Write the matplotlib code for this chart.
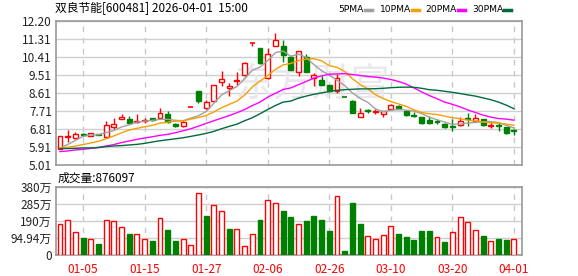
import matplotlib.pyplot as plt
from matplotlib.patches import Rectangle
from matplotlib.lines import Line2D

plt.rcParams['font.family'] = ['Noto Sans CJK SC', 'DejaVu Sans']

# 2025-12-29 .. 2026-04-01, one entry per trading day
tick_days = [3, 11, 19, 27, 35, 43, 51, 59]
tick_dates = ['01-05', '01-15', '01-27', '02-06', '02-26', '03-10', '03-20', '04-01']

opens = [5.82, 6.43, 6.36, 6.57, 6.47, 6.54, 6.42, 6.89, 7.30, 7.32,
         7.15, 7.20, 7.37, 7.35, 7.57, 7.07, 6.95, 7.89, 8.68, 7.86,
         8.21, 9.14, 8.84, 9.22, 9.51, 11.11, 10.85, 9.33, 10.95, 10.96,
         10.38, 9.67, 10.38, 9.35, 9.26, 8.99, 8.69, 8.41, 8.20, 7.43,
         7.74, 7.66, 7.55, 7.82, 7.96, 7.71, 7.53, 7.40, 7.25, 7.22,
         7.06, 6.96, 7.01, 7.35, 7.22, 7.30, 6.94, 7.00, 6.89, 6.74]
highs = [6.46, 6.74, 6.66, 6.61, 6.62, 6.56, 7.19, 7.35, 7.57, 7.48,
         7.57, 7.38, 7.38, 7.85, 7.70, 7.12, 7.25, 7.89, 8.68, 8.25,
         9.00, 9.72, 9.11, 9.64, 10.14, 11.11, 10.87, 10.83, 11.60, 11.23,
         10.49, 10.69, 10.57, 9.59, 9.43, 8.99, 9.56, 8.41, 8.28, 7.87,
         7.79, 7.79, 7.73, 8.04, 8.00, 7.71, 7.66, 7.43, 7.46, 7.33,
         7.10, 7.30, 7.43, 7.60, 7.55, 7.30, 7.14, 7.14, 6.92, 6.81]
lows = [5.80, 6.16, 6.32, 6.46, 6.46, 6.49, 6.36, 6.82, 7.30, 7.10,
        7.10, 7.12, 7.19, 7.29, 7.10, 6.90, 6.92, 7.89, 8.11, 7.81,
        8.18, 8.94, 8.48, 9.01, 9.44, 10.93, 10.06, 9.30, 10.93, 10.15,
        9.76, 9.43, 9.67, 8.94, 8.99, 8.64, 8.61, 8.41, 7.60, 7.43,
        7.60, 7.55, 7.43, 7.79, 7.79, 7.46, 7.40, 7.07, 7.06, 7.06,
        6.88, 6.73, 6.94, 6.97, 7.17, 6.94, 6.86, 6.73, 6.58, 6.52]
closes = [6.45, 6.45, 6.56, 6.49, 6.59, 6.51, 7.00, 7.05, 7.40, 7.12,
          7.20, 7.25, 7.24, 7.62, 7.15, 6.94, 7.17, 7.89, 8.20, 8.18,
          9.00, 9.29, 8.94, 9.25, 10.10, 11.11, 10.08, 10.55, 11.26, 10.50,
          9.76, 10.69, 9.67, 9.48, 8.99, 8.69, 9.35, 8.41, 7.63, 7.60,
          7.69, 7.71, 7.72, 7.99, 7.82, 7.50, 7.48, 7.11, 7.09, 7.17,
          6.91, 6.92, 7.22, 7.30, 7.37, 7.00, 7.02, 6.96, 6.61, 6.70]
# volume in 万
volume = [171.7, 197.3, 126, 95, 87.7, 62, 197, 191.8, 159, 117,
          115, 87.7, 78.5, 208, 139, 78.5, 87.7, 54.8, 349, 215.6,
          279.5, 246.6, 144.3, 148, 49.3, 115, 193.7, 307, 290.5, 248.5,
          210, 175.4, 188, 215.6, 193.7, 133.4, 330.7, 23.8, 292, 171.7,
          104, 87.7, 109.6, 164.4, 117, 100.5, 84, 133.4, 133.4, 98.7,
          73, 126, 213.8, 186.3, 137, 106, 76.7, 89.5, 84, 87.6]

ma5 = [5.86, 6.03, 6.24, 6.44, 6.51, 6.52, 6.63, 6.73, 6.91, 7.02,
       7.15, 7.20, 7.24, 7.29, 7.29, 7.24, 7.22, 7.35, 7.47, 7.68,
       8.09, 8.51, 8.72, 8.93, 9.32, 9.74, 9.90, 10.22, 10.62, 10.70,
       10.43, 10.55, 10.38, 10.02, 9.72, 9.50, 9.24, 8.98, 8.61, 8.34,
       8.14, 7.81, 7.67, 7.74, 7.79, 7.75, 7.70, 7.58, 7.40, 7.27,
       7.15, 7.04, 7.06, 7.10, 7.14, 7.16, 7.18, 7.13, 6.99, 6.86]
ma10 = [5.86, 5.89, 5.96, 6.03, 6.11, 6.19, 6.32, 6.46, 6.62, 6.76,
        6.84, 6.92, 6.99, 7.10, 7.15, 7.20, 7.21, 7.30, 7.38, 7.48,
        7.66, 7.87, 8.04, 8.20, 8.50, 8.91, 9.20, 9.47, 9.78, 10.01,
        10.08, 10.22, 10.30, 10.32, 10.21, 9.97, 9.89, 9.68, 9.32, 9.03,
        8.82, 8.52, 8.33, 8.18, 8.06, 7.94, 7.76, 7.63, 7.57, 7.53,
        7.45, 7.37, 7.32, 7.25, 7.21, 7.16, 7.11, 7.10, 7.05, 7.00]
ma20 = [5.68, 5.71, 5.76, 5.79, 5.84, 5.89, 5.96, 6.03, 6.13, 6.21,
        6.29, 6.36, 6.42, 6.49, 6.54, 6.62, 6.72, 6.82, 6.95, 7.09,
        7.22, 7.35, 7.48, 7.62, 7.78, 7.98, 8.15, 8.40, 8.59, 8.78,
        8.86, 9.02, 9.18, 9.35, 9.46, 9.54, 9.56, 9.57, 9.53, 9.48,
        9.43, 9.40, 9.35, 9.28, 9.18, 9.05, 8.86, 8.66, 8.48, 8.32,
        8.15, 8.04, 7.91, 7.76, 7.63, 7.50, 7.40, 7.33, 7.30, 7.25]
ma30 = [5.83, 5.83, 5.84, 5.86, 5.86, 5.88, 5.93, 5.96, 5.98, 6.01,
        6.04, 6.09, 6.16, 6.22, 6.27, 6.32, 6.37, 6.44, 6.51, 6.59,
        6.69, 6.82, 6.94, 7.05, 7.22, 7.37, 7.57, 7.78, 7.98, 8.15,
        8.20, 8.35, 8.45, 8.54, 8.61, 8.68, 8.74, 8.77, 8.79, 8.81,
        8.81, 8.82, 8.84, 8.87, 8.89, 8.90, 8.89, 8.84, 8.77, 8.74,
        8.69, 8.64, 8.58, 8.51, 8.45, 8.36, 8.27, 8.15, 8.00, 7.82]

price_ticks = [5.01, 5.91, 6.81, 7.71, 8.61, 9.51, 10.41, 11.31, 12.20]
vol_ticks = [0, 94.94, 190, 285, 380]
vol_labels = ['0', '94.94万', '190万', '285万', '380万']

RED = '#ff0000'
GREEN = '#008000'
GRID = '#d0d0d0'
SPINE = '#999999'

W, H = 578, 276
fig = plt.figure(figsize=(W / 100, H / 100), dpi=100)
ax = fig.add_axes([56 / W, 1 - 165 / H, 466 / W, 144 / H])
axv = fig.add_axes([56 / W, 1 - 255 / H, 466 / W, 68 / H])

n = len(closes)
bw = 0.64

for a in (ax, axv):
    a.set_xlim(-0.52, n + 0.05)
    for s in a.spines.values():
        s.set_color(SPINE)
        s.set_linewidth(1.2)
    a.tick_params(length=0, labelsize=8.5, colors='#222222')
    a.set_axisbelow(True)
    a.yaxis.grid(True, color=GRID, lw=1)
    for d in tick_days:
        a.axvline(d, color='#c8c8c8', lw=1, ls=(0, (4, 4)), zorder=0.5)

# watermark
ax.text(0.55, 0.56, '东方财富', transform=ax.transAxes, fontsize=28,
        color='#e8e8ee', ha='center', va='center', zorder=0.6)

# candles
for i in range(n):
    o, h, l, c = opens[i], highs[i], lows[i], closes[i]
    prev = closes[i - 1] if i > 0 else o
    if c > o or (c == o and c >= prev):
        col = RED
    else:
        col = GREEN
    ax.vlines(i, l, h, color=col, lw=1, zorder=2)
    if c == o:
        ax.hlines(c, i - bw / 2, i + bw / 2, color=col, lw=1.2, zorder=3)
    elif c > o:
        ax.add_patch(Rectangle((i - bw / 2, o), bw, c - o, facecolor='white',
                               edgecolor=col, lw=1, zorder=3))
    else:
        ax.add_patch(Rectangle((i - bw / 2, c), bw, o - c, facecolor=col,
                               edgecolor=col, lw=1, zorder=3))

x = list(range(n))
ax.plot(x, ma5, color='#a0a0a0', lw=1, zorder=4)
ax.plot(x, ma10, color='#f5a000', lw=1, zorder=4)
ax.plot(x, ma20, color='#ff00ff', lw=1, zorder=4)
ax.plot(x, ma30, color='#006b3c', lw=1, zorder=4)

ax.set_ylim(5.01, 12.20)
ax.set_yticks(price_ticks)
ax.set_yticklabels(['%.2f' % v for v in price_ticks])
ax.set_xticks([])
ax.tick_params(axis='y', pad=3)

# volume bars
for i in range(n):
    prev = closes[i - 1] if i > 0 else opens[i]
    if closes[i] >= prev:
        axv.add_patch(Rectangle((i - bw / 2, 0), bw, volume[i], facecolor='white',
                                edgecolor=RED, lw=1, zorder=3))
    else:
        axv.add_patch(Rectangle((i - bw / 2, 0), bw, volume[i], facecolor=GREEN,
                                edgecolor=GREEN, lw=1, zorder=3))

axv.set_ylim(0, 380)
axv.set_yticks(vol_ticks)
axv.set_yticklabels(vol_labels)
axv.set_xticks(tick_days)
axv.set_xticklabels(tick_dates, color=RED)
axv.tick_params(axis='x', pad=6, colors=RED)
axv.tick_params(axis='y', pad=3)

fig.text(58 / W, 1 - 178 / H, '成交量:%d' % 876097, fontsize=8.5, va='center')
fig.text(55 / W, 1 - 9 / H, '双良节能[600481] 2026-04-01  15:00', fontsize=8.5, va='center')

# legend: label followed by a short colour dash
leg_items = [('5PMA', '#a0a0a0', 338, 365), ('10PMA', '#f5a000', 380, 412),
             ('20PMA', '#ff00ff', 425, 458), ('30PMA', '#006b3c', 472, 504)]
for lab, col, x0, xd in leg_items:
    fig.text(x0 / W, 1 - 9 / H, lab, fontsize=6.6, va='center', family='DejaVu Sans')
    fig.add_artist(Line2D([xd / W, (xd + 7) / W], [1 - 9.5 / H, 1 - 9.5 / H],
                          color=col, lw=2.5, transform=fig.transFigure))

fig.savefig('out.png', dpi=100)
